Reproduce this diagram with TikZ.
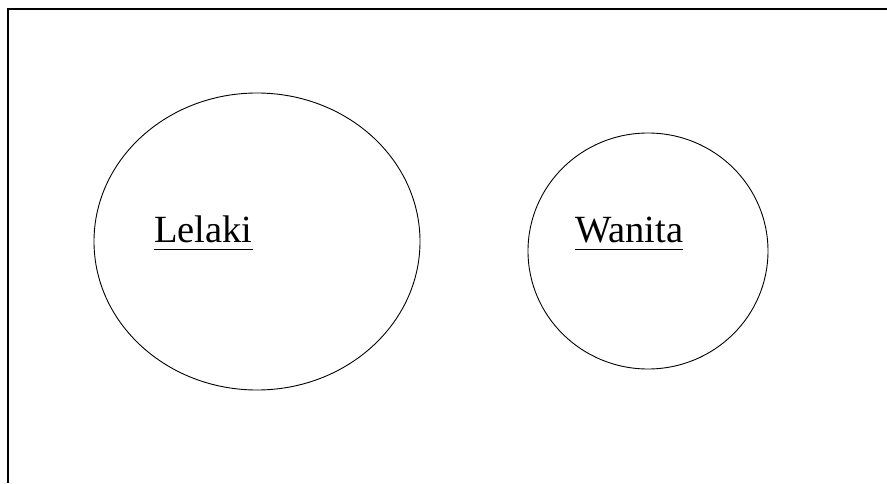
\documentclass[tikz,border=0pt]{standalone}
\usepackage{fontspec}
\setmainfont{Liberation Serif}
\usetikzlibrary{shapes.geometric}
\begin{document}
\begin{tikzpicture}[x=1pt,y=1pt,
  frameline/.style={line width=1.6pt},
  setshape/.style={draw,ellipse,line width=0.9pt,inner sep=0pt},
  lbl/.style={anchor=base west,inner sep=0pt,font=\fontsize{38.5}{42}\selectfont},
  uline/.style={line width=1.4pt}]
\useasboundingbox (0,0) rectangle (887,483);
% frame
\coordinate (fb) at (8,0);
\coordinate (ftl) at (8,474);
\coordinate (ftr) at (887,474);
\draw[frameline] (fb) -- (ftl) -- (ftr);
% sets
\node[setshape,minimum width=326pt,minimum height=297pt] (lel) at (257,241.5) {};
\node[setshape,minimum width=240pt,minimum height=236pt] (wan) at (648,232) {};
% labels
\node[lbl] (tl) at (154,241) {Lelaki};
\node[lbl] (tw) at (575,241) {Wanita};
\draw[uline] ([yshift=-7.5pt]tl.base west) -- ([yshift=-7.5pt]tl.base east);
\draw[uline] ([yshift=-7.5pt]tw.base west) -- ([yshift=-7.5pt]tw.base east);
\end{tikzpicture}
\end{document}
